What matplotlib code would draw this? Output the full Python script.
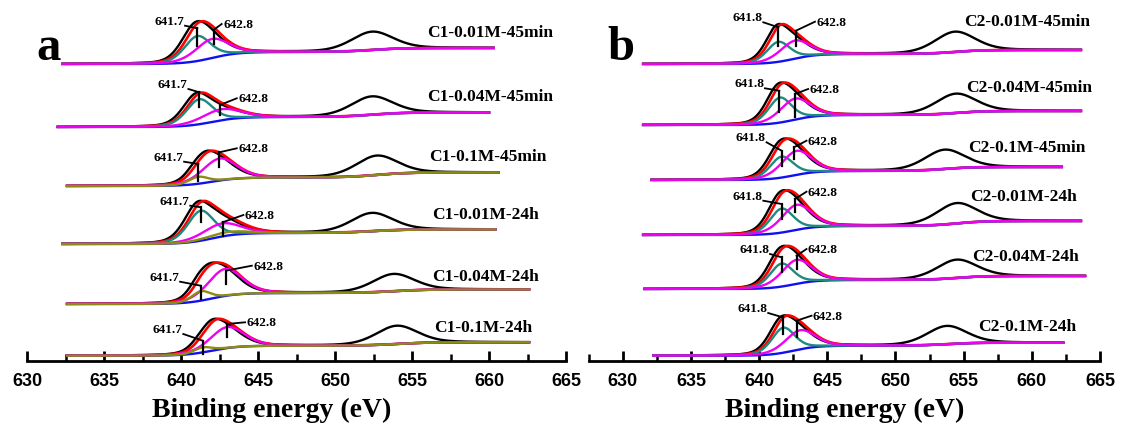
import numpy as np
import matplotlib
matplotlib.use("Agg")
import matplotlib.pyplot as plt
from matplotlib.ticker import MultipleLocator

plt.rcParams['font.family'] = ['Liberation Serif', 'DejaVu Serif']
plt.rcParams['font.weight'] = 'bold'

# ---- panel a : C1 samples (top -> bottom) ----
labels_a = ["C1-0.01M-45min", "C1-0.04M-45min", "C1-0.1M-45min",
            "C1-0.01M-24h", "C1-0.04M-24h", "C1-0.1M-24h"]
label_pos_a = [(655.95, 328.7), (655.95, 264.7), (656.1, 204.7),
               (656.3, 147), (656.3, 85.3), (656.45, 33.7)]
start_a = [632.3, 632.0, 632.6, 632.3, 632.6, 632.6]
end_a = [660.3, 660.0, 660.6, 660.4, 662.6, 662.6]
base_a = [297, 234, 175, 117, 57, 5.3]
step1_a = [12, 10, 8.5, 11, 11, 10]
step2_a = [4, 4.5, 5, 3.5, 3.5, 3.4]
# fitted peaks: (centre eV, height, fwhm), None = not present
teal_a = [(641.06, 25, 2.0), (641.19, 25, 2.0), None, (641.28, 30, 2.0), None, None]
mag_a = [(642.0, 19, 2.5), (642.6, 11, 3.0), (642.5, 22, 2.6),
         (642.64, 13, 2.9), (642.86, 27, 2.6), (643.0, 21, 2.6)]
olive_a = [None, None, (641.13, 7, 1.5), (642.97, 3.5, 3.2), (641.3, 9.5, 1.4), (641.41, 5, 1.4)]
extra_a = [None, None, (641.8, 9, 1.5), None, (642.0, 10, 1.5), (642.2, 12, 1.5)]
p12_a = [(652.4, 18, 3.2), (652.38, 18, 3.2), (652.7, 19, 3.2),
         (652.38, 18, 3.2), (653.79, 17, 3.2), (654.0, 18, 3.2)]
# markers: (x, bottom, top, leader end x, leader end y)
mark1_a = [(641.06, 314.7, 332.7, 640.26, 335.3), (641.19, 253.7, 268.7, 640.48, 272),
           (641.13, 180.3, 197, 640.2, 199.3), (641.3, 138.7, 153.7, 640.6, 155.3),
           (641.28, 62, 75.3, 639.94, 79.3), (641.41, 7, 20.3, 640.15, 27)]
mark2_a = [(642.14, 317, 331.3, 642.64, 337), (642.53, 246, 256, 643.62, 262.7),
           (642.49, 193.7, 208.7, 643.62, 212.7), (642.7, 125.3, 138.7, 644.05, 146),
           (642.92, 77, 90.3, 644.6, 95.3), (642.97, 23.7, 37, 644.16, 38.7)]

# ---- panel b : C2 samples ----
labels_b = ["C2-0.01M-45min", "C2-0.04M-45min", "C2-0.1M-45min",
            "C2-0.01M-24h", "C2-0.04M-24h", "C2-0.1M-24h"]
label_pos_b = [(655.0, 340.3), (655.16, 273.7), (655.33, 214.3),
               (655.5, 164.7), (655.65, 104.7), (656.06, 35.3)]
start_b = [631.5, 631.5, 632.1, 631.5, 631.6, 632.25]
end_b = [663.6, 663.6, 662.2, 663.6, 663.9, 662.3]
base_b = [297, 236, 181, 126, 72, 5.3]
step1_b = [10, 10, 9, 9, 9, 10]
step2_b = [4, 4, 4, 5, 4, 3]
teal_b = [(641.41, 20, 2.0), (641.53, 25, 2.0), (641.65, 21, 2.0),
          (641.65, 24, 2.0), (641.65, 23, 2.0), (641.77, 25, 2.0)]
mag_b = [(642.63, 18, 2.6), (642.63, 21, 2.6), (642.75, 24, 2.6),
         (642.75, 25, 2.6), (642.75, 24, 2.6), (643.0, 19, 2.6)]
olive_b = [None] * 6
extra_b = [(641.6, 6, 1.5), None, None, None, None, None]
p12_b = [(654.35, 20, 3.5), (654.42, 19, 3.5), (653.6, 19, 3.5),
         (654.48, 20, 3.5), (654.48, 18, 3.5), (653.75, 18, 3.5)]
mark1_b = [(641.41, 315.3, 333.7, 640.31, 338.7), (641.48, 248.7, 270.3, 640.43, 272.7),
           (641.65, 195.3, 210.3, 640.55, 218.7), (641.65, 142, 157, 640.31, 160.3),
           (641.65, 88.7, 103.7, 640.8, 107), (641.73, 27, 43.7, 640.67, 48)]
mark2_b = [(642.7, 315.3, 330.3, 644.1, 339.3), (642.63, 243.7, 267, 643.6, 272),
           (642.56, 202, 213.7, 643.48, 220.3), (642.63, 148.7, 162, 643.48, 169.3),
           (642.75, 92, 105.3, 643.48, 112), (642.75, 23.7, 40.3, 643.85, 45.3)]

TEAL, MAG, OLIVE = '#1f8a80', '#f000f0', '#8c8c10'


def pv(x, c, a, w, eta=0.3):
    g = np.exp(-4 * np.log(2) * (x - c) ** 2 / w ** 2)
    l = 1 / (1 + 4 * (x - c) ** 2 / w ** 2)
    return a * ((1 - eta) * g + eta * l)


def sig(x, c, s):
    return 1 / (1 + np.exp(-(x - c) / s))


def draw_panel(ax, labels, label_pos, start, end, base, step1, step2, teal, mag, olive,
               extra, p12, mark1, mark2, lab1, step_c):
    for i in range(6):
        x = np.linspace(start[i], end[i], 900)

        def bg(e):
            return base[i] + step1[i] * sig(e, step_c, 0.85) + step2[i] * sig(e, p12[i][0], 1.0)

        def env(e):
            y = bg(e)
            for p in (teal[i], mag[i], olive[i], extra[i]):
                if p:
                    y = y + pv(e, *p)
            return y

        # measured data sits a little to the low-energy side of the fit
        black = env(x + 0.25) + pv(x, *p12[i])
        ax.plot(x, black, color='black', lw=1.7, zorder=2)
        ax.plot(x, env(x), color='red', lw=1.9, zorder=3)
        ax.plot(x, bg(x), color='#1010f0', lw=1.7, zorder=4)
        for col, p, z in ((TEAL, teal[i], 5), (MAG, mag[i], 6), (OLIVE, olive[i], 7)):
            if p:
                ax.plot(x, bg(x) + pv(x, *p), color=col, lw=1.7, zorder=z)

        for m, txt, ha in ((mark1[i], lab1, 'right'), (mark2[i], '642.8', 'left')):
            xm, lo, hi, lx, ly = m
            ax.plot([xm, xm], [lo, hi], color='black', lw=1.6, zorder=9)
            ax.plot([xm, lx], [hi, ly], color='black', lw=1.3, zorder=9)
            if ha == 'right':
                ax.text(lx - 0.05, ly - 1, txt, ha='right', va='bottom', fontsize=9.5,
                        fontweight='bold', zorder=10)
            else:
                ax.text(lx + 0.1, ly, txt, ha='left', va='center', fontsize=9.5,
                        fontweight='bold', zorder=10)

        ax.text(label_pos[i][0], label_pos[i][1], labels[i], ha='left', va='center',
                fontsize=12.5, fontweight='bold')


def style_axis(ax, xmin):
    ax.set_xlim(xmin, 665)
    ax.set_ylim(0, 362)
    for s in ('top', 'left', 'right'):
        ax.spines[s].set_visible(False)
    ax.spines['bottom'].set_linewidth(2)
    ax.set_yticks([])
    ax.xaxis.set_major_locator(MultipleLocator(5))
    ax.xaxis.set_minor_locator(MultipleLocator(2.5))
    ax.tick_params(axis='x', which='major', direction='in', length=7, width=2, pad=8)
    ax.tick_params(axis='x', which='minor', direction='in', length=5, width=1.8)
    ax.set_xticks(np.arange(630, 666, 5))
    for t in ax.get_xticklabels():
        t.set_fontfamily('Liberation Sans')
        t.set_fontweight('bold')
        t.set_fontsize(13)
    ax.patch.set_alpha(0)


fig = plt.figure(figsize=(11.21, 4.27), dpi=100)
ax_a = fig.add_axes([27 / 1121, 65 / 427, 539 / 1121, 362 / 427])
ax_b = fig.add_axes([588.6 / 1121, 65 / 427, 511.4 / 1121, 362 / 427])

draw_panel(ax_a, labels_a, label_pos_a, start_a, end_a, base_a, step1_a, step2_a, teal_a,
           mag_a, olive_a, extra_a, p12_a, mark1_a, mark2_a, '641.7', 642.0)
draw_panel(ax_b, labels_b, label_pos_b, start_b, end_b, base_b, step1_b, step2_b, teal_b,
           mag_b, olive_b, extra_b, p12_b, mark1_b, mark2_b, '641.8', 642.5)

style_axis(ax_a, 630)
style_axis(ax_b, 627.5)

ax_a.text(630.6, 302, 'a', fontsize=35, fontweight='bold', ha='left', va='baseline')
ax_b.text(628.9, 302, 'b', fontsize=35, fontweight='bold', ha='left', va='baseline')

ax_a.set_xlabel('Binding energy (eV)', fontsize=20, fontweight='bold', va='center')
ax_a.xaxis.set_label_coords(0.4545, -48 / 362)
ax_b.set_xlabel('Binding energy (eV)', fontsize=20, fontweight='bold', va='center')
ax_b.xaxis.set_label_coords(0.5, -48 / 362)

fig.savefig('out.png', dpi=100)
